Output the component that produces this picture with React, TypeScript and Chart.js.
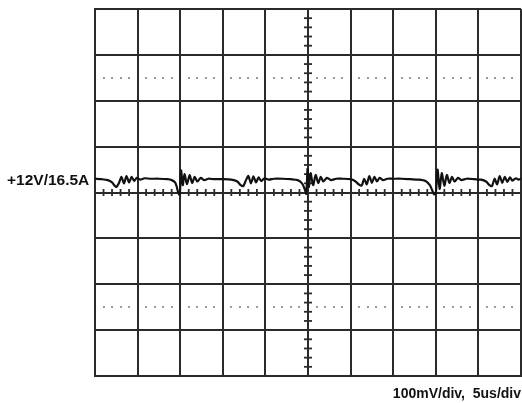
import React, { useEffect, useRef } from "react";
import { Chart, registerables } from "chart.js";
Chart.register(...registerables);

// time in microseconds (5 us / div), voltage in mV (100 mV / div), relative to centre
const timeUs = [
  0, 0.8, 1.5, 2.0, 2.3, 2.5, 2.8, 3.1, 3.4, 3.7, 4.0, 4.3, 4.6, 4.9, 5.3, 5.8, 6.5, 7.5, 8.5, 9.0, 9.4, 9.6, 9.8,
  9.95, 10.1, 10.3, 10.5, 10.8, 11.1, 11.4, 11.7, 12.0, 12.4, 12.8, 13.3, 14, 15, 16, 16.7, 17.1, 17.4, 17.7, 18.0,
  18.3, 18.6, 18.9, 19.2, 19.5, 19.9, 20.4, 21, 22, 23, 23.8, 24.3, 24.6, 24.8, 24.95, 25.1, 25.3, 25.6, 25.9, 26.2,
  26.5, 26.8, 27.2, 27.7, 28.3, 29, 30, 30.5, 31.0, 31.3, 31.6, 31.9, 32.2, 32.5, 32.8, 33.1, 33.4, 33.8, 34.3, 35,
  36, 37, 38, 38.8, 39.3, 39.6, 39.8, 40.0, 40.2, 40.45, 40.7, 41.0, 41.3, 41.6, 41.9, 42.2, 42.6, 43.0, 43.6, 44.5,
  45.3, 45.9, 46.3, 46.6, 46.9, 47.2, 47.5, 47.8, 48.1, 48.4, 48.7, 49.0, 49.4, 49.7, 50,
];
const voltageMv = [
  30, 29, 27, 22, 15, 12, 20, 34, 20, 36, 22, 34, 25, 32, 28, 31, 30, 30, 29, 27, 22, 12, -2,
  -5, 48, 16, 40, 18, 38, 21, 34, 24, 32, 27, 30, 29, 29, 28, 24, 16, 14, 26, 36,
  20, 35, 22, 33, 25, 31, 28, 30, 30, 29, 27, 20, 8, -3, 52, 12, 42, 16, 38, 21,
  34, 24, 32, 27, 30, 30, 29, 25, 17, 15, 30, 18, 36, 21, 34, 24, 32, 27, 30, 30,
  30, 29, 28, 25, 16, 4, -4, -2, 50, 8, 42, 15, 38, 21, 34, 24, 32, 27, 30, 29,
  28, 24, 16, 14, 30, 18, 36, 21, 34, 23, 33, 26, 31, 28, 30,
];
const xTicksUs = [0, 5, 10, 15, 20, 25, 30, 35, 40, 45, 50];
const yTicksMv = [-400, -300, -200, -100, 0, 100, 200, 300, 400];
const dottedLevelsMv = [250, -250];
const channelLabel = "+12V/16.5A";
const scaleLabel = "100mV/div,  5us/div";

const GRID = "#2b2b2b";

const scopePlugin = {
  id: "scope",
  beforeDatasetsDraw(chart: any) {
    const { ctx, scales } = chart;
    const x = scales.x;
    const y = scales.y;
    ctx.save();
    // dotted gray lines
    ctx.fillStyle = "#9a9a9a";
    for (const lvl of dottedLevelsMv) {
      const py = y.getPixelForValue(lvl);
      for (let t = 0; t <= 50; t += 1) {
        if (t % 5 === 0) continue;
        const px = x.getPixelForValue(t);
        ctx.fillRect(Math.round(px) - 1, Math.round(py) - 1, 2, 2);
      }
    }
    // centre minor ticks
    ctx.strokeStyle = GRID;
    ctx.lineWidth = 1.8;
    const cy = y.getPixelForValue(0);
    for (let t = 0; t <= 50; t += 1) {
      if (t % 5 === 0) continue;
      const px = x.getPixelForValue(t);
      ctx.beginPath();
      ctx.moveTo(px, cy - 3.5);
      ctx.lineTo(px, cy + 3.5);
      ctx.stroke();
    }
    const cx = x.getPixelForValue(25);
    for (let v = -400; v <= 400; v += 20) {
      if (v % 100 === 0) continue;
      const py = y.getPixelForValue(v);
      ctx.beginPath();
      ctx.moveTo(cx - 4, py);
      ctx.lineTo(cx + 4, py);
      ctx.stroke();
    }
    ctx.restore();
  },
};

export default function App() {
  const ref = useRef<HTMLCanvasElement | null>(null);
  useEffect(() => {
    if (!ref.current) return;
    const chart = new Chart(ref.current, {
      type: "line",
      data: {
        datasets: [
          {
            data: timeUs.map((t, i) => ({ x: t, y: voltageMv[i] })),
            borderColor: "#111",
            borderWidth: 2.2,
            pointRadius: 0,
            tension: 0.25,
            fill: false,
          },
        ],
      },
      options: {
        animation: false,
        responsive: false,
        events: [],
        layout: { padding: { left: 95, top: 9, right: 1, bottom: 27 } },
        plugins: { legend: { display: false }, tooltip: { enabled: false } },
        scales: {
          x: {
            type: "linear",
            min: 0,
            max: 50,
            afterBuildTicks: (s: any) => {
              s.ticks = xTicksUs.map((v) => ({ value: v }));
            },
            ticks: { display: false },
            grid: { color: GRID, lineWidth: 2, drawTicks: false },
            border: { display: true, color: GRID, width: 2 },
          },
          y: {
            type: "linear",
            min: -400,
            max: 400,
            afterBuildTicks: (s: any) => {
              s.ticks = yTicksMv.map((v) => ({ value: v }));
            },
            ticks: { display: false },
            grid: { color: GRID, lineWidth: 2, drawTicks: false },
            border: { display: true, color: GRID, width: 2 },
          },
        },
      },
      plugins: [scopePlugin],
    });
    return () => chart.destroy();
  }, []);

  const textStyle: React.CSSProperties = {
    position: "absolute",
    fontFamily: "'Liberation Sans', Arial, sans-serif",
    fontWeight: "bold",
    color: "#111",
    whiteSpace: "pre",
    lineHeight: 1,
  };

  return (
    <div style={{ position: "absolute", left: 0, top: 0, width: 522, height: 403, background: "#fff" }}>
      <canvas ref={ref} width={522} height={403} style={{ position: "absolute", left: 0, top: 0 }} />
      <div style={{ ...textStyle, left: 7, top: 172, fontSize: 15.5 }}>{channelLabel}</div>
      <div style={{ ...textStyle, right: 1, top: 386, fontSize: 14 }}>{scaleLabel}</div>
    </div>
  );
}
